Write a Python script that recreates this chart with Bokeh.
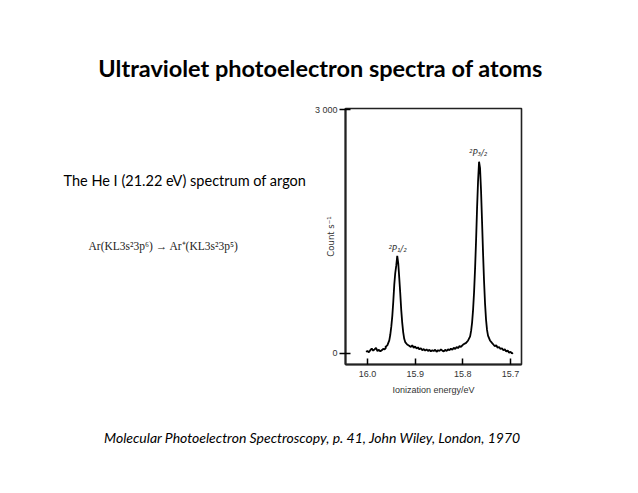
from bokeh.plotting import figure
from bokeh.models import Label, FixedTicker, Range1d, NumeralTickFormatter
from bokeh.layouts import column, row
from bokeh.embed import file_html
from bokeh.resources import INLINE

# ---- data ----
energy = [16.003, 16.000, 15.997, 15.994, 15.991, 15.988, 15.985, 15.982, 15.979, 15.976,
          15.973, 15.970, 15.967, 15.964, 15.961,
          15.9625, 15.9583, 15.9542, 15.9521, 15.9500, 15.9479, 15.9458, 15.9437, 15.9417,
          15.9396, 15.9375, 15.9354, 15.9333, 15.9312, 15.9292, 15.9271, 15.9250, 15.9229,
          15.9208, 15.9167, 15.9125,
          15.909, 15.906, 15.903, 15.900, 15.897, 15.894, 15.891, 15.888, 15.885, 15.882,
          15.879, 15.876, 15.873, 15.870, 15.867, 15.864, 15.861, 15.858, 15.855, 15.852,
          15.849, 15.846, 15.843, 15.840, 15.837, 15.834, 15.831, 15.828, 15.825, 15.822,
          15.819, 15.816, 15.813, 15.810, 15.807, 15.804, 15.801,
          15.7993, 15.7931, 15.7889, 15.7847, 15.7826, 15.7806, 15.7785, 15.7764, 15.7743,
          15.7722, 15.7702, 15.7681, 15.7660, 15.7639, 15.7618, 15.7597, 15.7577, 15.7556,
          15.7535, 15.7514, 15.7493, 15.7472, 15.7431, 15.7389,
          15.736, 15.733, 15.730, 15.727, 15.724, 15.721, 15.718, 15.715, 15.712, 15.709,
          15.706, 15.703, 15.700, 15.697, 15.695]
counts = [20, 30, 15, 40, 60, 35, 50, 70, 30, 45,
          25, 40, 55, 50, 70,
          80, 100, 160, 230, 330, 460, 640, 850, 990,
          1080, 1200, 1110, 930, 740, 540, 380, 260, 180,
          140, 110, 95,
          80, 100, 70, 85, 60, 75, 50, 65, 40, 55,
          35, 50, 30, 45, 25, 40, 30, 45, 20, 40,
          30, 50, 35, 25, 45, 30, 50, 40, 60, 45,
          70, 55, 80, 65, 90, 80, 100,
          110, 130, 160, 210, 280, 380, 540, 760, 1050,
          1400, 1780, 2120, 2360, 2280, 2000, 1620, 1250, 900,
          620, 420, 290, 220, 160, 130,
          110, 90, 100, 70, 80, 55, 65, 40, 50, 25,
          35, 10, 20, 0, 10]
x_ticks = [16.0, 15.9, 15.8, 15.7]
y_ticks = [0, 3000]
y_tick_labels = {0: "0", 3000: "3 000"}
peak_labels = ["²P₁/₂", "²P₃/₂"]
peak_label_pos = [(15.937, 1285), (15.768, 2470)]

title_text = "Ultraviolet photoelectron spectra of atoms"
subtitle_text = "The He I (21.22 eV) spectrum of argon"
equation_text = "Ar(KL3s²3p⁶) → Ar⁺(KL3s²3p⁵)"
citation_text = "Molecular Photoelectron Spectroscopy, p. 41, John Wiley, London, 1970"
x_label = "Ionization energy/eV"
y_label = "Count s⁻¹"


def text_fig(w, h):
    f = figure(width=w, height=h, x_range=Range1d(0, w), y_range=Range1d(h, 0),
               min_border=0, x_axis_location=None, y_axis_location=None,
               output_backend="svg", toolbar_location=None,
               background_fill_color="white", border_fill_color="white")
    f.grid.visible = False
    f.outline_line_color = None
    return f


def put(f, x, y, text, font="Lato", size="13px", style="normal", align="left",
        color="black"):
    f.add_layout(Label(x=x, y=y, text=text, text_font=font, text_font_size=size,
                       text_font_style=style, text_align=align,
                       text_baseline="middle", text_color=color))


# title strip
top = text_fig(630, 95)
put(top, 320, 67, title_text, size="23.5px", style="bold", align="center")

# left text block
left = text_fig(312, 305)
put(left, 63, 86, subtitle_text, size="14.5px")
put(left, 88, 164, equation_text, font="Liberation Serif", size="11.5px", color="#222222")

# chart
p = figure(width=318, height=305, output_backend="svg", toolbar_location=None,
           x_range=Range1d(16.046, 15.677), y_range=Range1d(-136, 3015),
           min_border_left=33, min_border_right=109, min_border_top=13,
           min_border_bottom=36, background_fill_color="white",
           border_fill_color="white")
p.xgrid.visible = False
p.ygrid.visible = False
p.outline_line_color = "#222222"
p.outline_line_width = 1.6

p.line(energy, counts, line_color="black", line_width=1.8)

xa = p.xaxis[0]
xa.ticker = FixedTicker(ticks=x_ticks)
xa.formatter = NumeralTickFormatter(format="0.0")
xa.major_tick_in = 6
xa.major_tick_out = 0
xa.minor_tick_line_color = None
xa.axis_line_width = 2
xa.axis_line_color = "#222222"
xa.major_tick_line_width = 1.5
xa.major_label_text_font = "Liberation Sans"
xa.major_label_text_font_size = "9px"
xa.major_label_text_color = "#333333"
xa.major_label_standoff = 6
xa.axis_label = x_label
xa.axis_label_text_font = "Liberation Sans"
xa.axis_label_text_font_size = "9px"
xa.axis_label_text_font_style = "normal"
xa.axis_label_text_color = "#333333"
xa.axis_label_standoff = 5

ya = p.yaxis[0]
ya.ticker = FixedTicker(ticks=y_ticks)
ya.major_label_overrides = y_tick_labels
ya.major_tick_in = 5
ya.major_tick_out = 6
ya.minor_tick_line_color = None
ya.axis_line_width = 2
ya.axis_line_color = "#222222"
ya.major_tick_line_width = 1.5
ya.major_label_text_font = "Liberation Sans"
ya.major_label_text_font_size = "9px"
ya.major_label_text_color = "#333333"
ya.major_label_standoff = 2
ya.axis_label = y_label
ya.axis_label_text_font = "DejaVu Sans"
ya.axis_label_text_font_size = "8.5px"
ya.axis_label_text_font_style = "normal"
ya.axis_label_text_color = "#333333"
ya.axis_label_standoff = -24

for (px_, py_), t in zip(peak_label_pos, peak_labels):
    p.add_layout(Label(x=px_, y=py_, text=t, text_font="DejaVu Sans",
                       text_font_size="8.5px", text_font_style="italic",
                       text_align="center", text_baseline="middle",
                       text_color="#333333"))

# citation strip
bottom = text_fig(630, 85)
put(bottom, 312, 37, citation_text, size="14px", style="italic", align="center")

layout = column(top, row(left, p), bottom)
open("out.html", "w").write(file_html(layout, INLINE))
